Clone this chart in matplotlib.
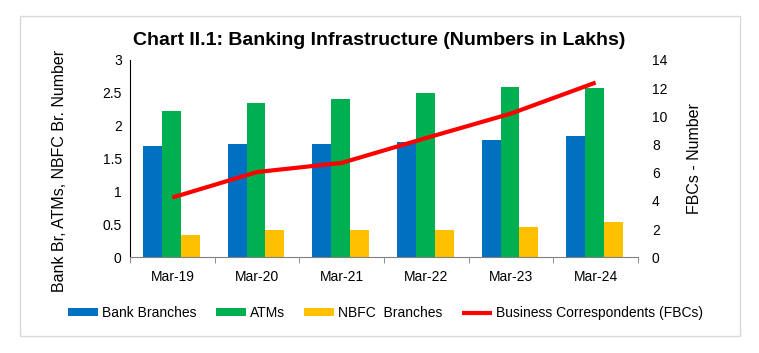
import matplotlib
matplotlib.use("Agg")
import matplotlib.pyplot as plt
import numpy as np
from matplotlib.patches import Rectangle

plt.rcParams['font.family'] = ['Liberation Sans', 'DejaVu Sans']

categories = ["Mar-19", "Mar-20", "Mar-21", "Mar-22", "Mar-23", "Mar-24"]
bank_branches = [1.69, 1.73, 1.73, 1.76, 1.79, 1.84]
atms = [2.23, 2.35, 2.40, 2.50, 2.59, 2.58]
nbfc_branches = [0.34, 0.41, 0.41, 0.42, 0.46, 0.53]
fbcs = [4.24, 6.05, 6.70, 8.47, 10.2, 12.4]

c_blue = "#0070C0"
c_green = "#00B050"
c_yellow = "#FFC000"
c_red = "#FF0000"

W, H = 759, 353
fig = plt.figure(figsize=(W / 100, H / 100), dpi=100)
fig.patches.append(Rectangle((20 / W, 1 - 336 / H), 720 / W, 320 / H,
                             transform=fig.transFigure, fill=False,
                             edgecolor="#D9D9D9", linewidth=1.0))

ax = fig.add_axes([130 / W, 1 - 257.3 / H, (638 - 130) / W, (257.3 - 60) / H])
x = np.arange(len(categories))
w = 0.224
off = -0.012
ax.bar(x - w + off, bank_branches, w, color=c_blue, label="Bank Branches")
ax.bar(x + off, atms, w, color=c_green, label="ATMs")
ax.bar(x + w + off, nbfc_branches, w, color=c_yellow, label="NBFC  Branches")
ax.set_xlim(-0.5, len(categories) - 0.5)
ax.set_ylim(0, 3)
ax.set_yticks([0, 0.5, 1, 1.5, 2, 2.5, 3])
ax.set_yticklabels(["0", "0.5", "1", "1.5", "2", "2.5", "3"])
ax.set_xticks(x)
ax.set_xticklabels(categories)
ax.set_xticks(np.arange(-0.5, len(categories)), minor=True)
ax.tick_params(axis='x', which='major', length=0, labelsize=10, pad=9)
ax.tick_params(axis='x', which='minor', length=4, color="#808080", direction='out')
ax.tick_params(axis='y', length=0, labelsize=10, pad=6)
for s in ["top", "right"]:
    ax.spines[s].set_visible(False)
ax.spines["bottom"].set_color("#808080")
ax.spines["left"].set_color("black")
ax.set_ylabel("Bank Br, ATMs, NBFC Br. Number", fontsize=11.5)
ax.yaxis.set_label_coords((67 - 130) / 508, 0.44)

ax2 = ax.twinx()
ax2.plot(x, fbcs, color=c_red, linewidth=3, label="Business Correspondents (FBCs)",
         solid_capstyle='butt')
ax2.set_ylim(0, 14)
ax2.set_yticks(range(0, 15, 2))
ax2.tick_params(axis='y', length=0, labelsize=10, pad=10)
for s in ["top", "right", "left", "bottom"]:
    ax2.spines[s].set_visible(False)
ax2.set_ylabel("FBCs - Number", fontsize=11.5)
ax2.yaxis.set_label_coords((687 - 130) / 508, 0.5)

fig.text(379.5 / W, 1 - 40.5 / H, "Chart II.1: Banking Infrastructure (Numbers in Lakhs)",
         ha="center", va="center", fontsize=14, fontweight="bold")

h1, l1 = ax.get_legend_handles_labels()
h2, l2 = ax2.get_legend_handles_labels()
fig.legend(h1 + h2, l1 + l2, loc="center", bbox_to_anchor=(385.5 / W, 1 - 313.3 / H),
           ncol=4, frameon=False, fontsize=10, handlelength=2.16, handleheight=0.5,
           columnspacing=1.4, handletextpad=0.29, borderaxespad=0, borderpad=0)

fig.savefig("out.png", dpi=100)
